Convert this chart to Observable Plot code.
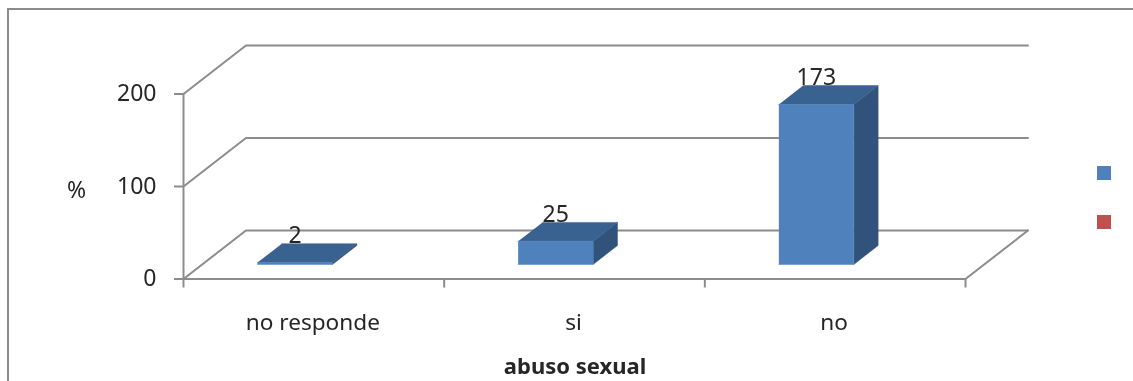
<!DOCTYPE html>
<html>
<head>
<meta charset="utf-8">
<script src="https://cdn.jsdelivr.net/npm/d3@7"></script>
<script src="https://cdn.jsdelivr.net/npm/@observablehq/plot@0.6"></script>
<style>
  html, body { margin: 0; padding: 0; background: #fff; overflow: hidden; }
  #wrap { position: relative; width: 1133px; height: 381px; }
  #wrap svg { display: block; filter: blur(0.5px); }
  .frame-top { position: absolute; left: 7px; right: 0; top: 8px; height: 2px; background: #8c8c8c; }
  .frame-left { position: absolute; left: 7px; top: 8px; bottom: 0; width: 2px; background: #8c8c8c; }
  .swatch { position: absolute; left: 1097px; width: 14px; height: 14px; }
</style>
</head>
<body>
<div id="wrap"></div>
<script>
const categories = ["no responde", "si", "no"];
const values = [2, 25, 173];
const yTicks = [0, 100, 200];
const legendColors = ["#4f81bd", "#c0504d"];
const xTitle = "abuso sexual";
const yTitle = "%";

// Oblique projection of the 3-D box: depth 0 is the front plane, depth 1 the back wall.
const depthX = 0.2396;      // category units per unit of depth
const depthY = 52.43;       // value units per unit of depth
const barStart = 0.212, barWidth = 0.2875;  // within a category
const d0 = 0.30, d1 = 0.69;                 // depth range of the bars
const project = (x, y, d) => ({x: x + d * depthX, y: y + d * depthY});

const grid = yTicks.flatMap((t) => [
  {id: t, ...project(0, t, 0)},
  {id: t, ...project(0, t, 1)},
  {id: t, ...project(3, t, 1)}
]);
const floorRight = [project(3, 0, 0), project(3, 0, 1)];

const faces = {front: [], top: [], side: []};
categories.forEach((c, i) => {
  const l = i + barStart, r = l + barWidth, v = values[i];
  faces.front.push(
    {id: c, ...project(l, 0, d0)}, {id: c, ...project(r, 0, d0)},
    {id: c, ...project(r, v, d0)}, {id: c, ...project(l, v, d0)});
  faces.top.push(
    {id: c, ...project(l, v, d0)}, {id: c, ...project(r, v, d0)},
    {id: c, ...project(r, v, d1)}, {id: c, ...project(l, v, d1)});
  faces.side.push(
    {id: c, ...project(r, 0, d0)}, {id: c, ...project(r, 0, d1)},
    {id: c, ...project(r, v, d1)}, {id: c, ...project(r, v, d0)});
});
const labels = categories.map((c, i) => ({
  ...project(i + barStart + barWidth / 2, values[i], d0), text: String(values[i])
}));

const font = "'Noto Sans', sans-serif";
const grey = "#8c8c8c", ink = "#262626";
const face = (rows, fill) => Plot.line(rows, {x: "x", y: "y", z: "id", fill, stroke: fill, strokeWidth: 0.5});

const chart = Plot.plot({
  width: 1133, height: 381,
  marginLeft: 183, marginRight: 168, marginTop: 93.5, marginBottom: 102.5,
  style: {fontFamily: font, fontSize: "23px", background: "transparent", overflow: "visible"},
  x: {type: "linear", domain: [0, 3]},
  y: {type: "linear", domain: [0, 200]},
  marks: [
    Plot.line(grid, {x: "x", y: "y", z: "id", stroke: grey, strokeWidth: 2, curve: "linear"}),
    Plot.line(floorRight, {x: "x", y: "y", stroke: grey, strokeWidth: 2}),
    Plot.ruleY([0], {stroke: grey, strokeWidth: 2}),
    Plot.ruleX([0], {stroke: grey, strokeWidth: 2}),
    Plot.axisY({ticks: yTicks, tickSize: 9, tickPadding: 18, label: null, stroke: grey, strokeWidth: 2, fill: ink, fontSize: 23, textStroke: "none"}),
    Plot.axisX({ticks: [0, 1, 2, 3], tickSize: 9, tickFormat: () => "", label: null, stroke: grey, strokeWidth: 2}),
    Plot.axisX({ticks: categories.map((c, i) => i + 0.5), tickSize: 0, tickPadding: 35, dx: -1,
      tickFormat: (t) => categories[Math.floor(t)], label: null, fill: ink, fontSize: 22.6}),
    face(faces.side, "#31527b"),
    face(faces.top, "#3a6290"),
    face(faces.front, "#4f81bd"),
    Plot.text(labels, {x: "x", y: "y", text: "text", dy: -27, fill: ink, fontSize: 23}),
    Plot.text([yTitle], {frameAnchor: "left", textAnchor: "middle", dx: -107, dy: 4, fill: ink, fontSize: 23}),
    Plot.text([xTitle], {frameAnchor: "bottom", lineAnchor: "middle", dy: 87.5, dx: 0.5, fill: ink,
      fontWeight: "bold", fontSize: 22})
  ]
});

const wrap = document.getElementById("wrap");
wrap.appendChild(chart);
for (const cls of ["frame-top", "frame-left"]) {
  const f = document.createElement("div"); f.className = cls; wrap.appendChild(f);
}
legendColors.forEach((c, i) => {
  const s = document.createElement("div");
  s.className = "swatch";
  s.style.background = c;
  s.style.top = (166 + i * 49) + "px";
  wrap.appendChild(s);
});
</script>
</body>
</html>
